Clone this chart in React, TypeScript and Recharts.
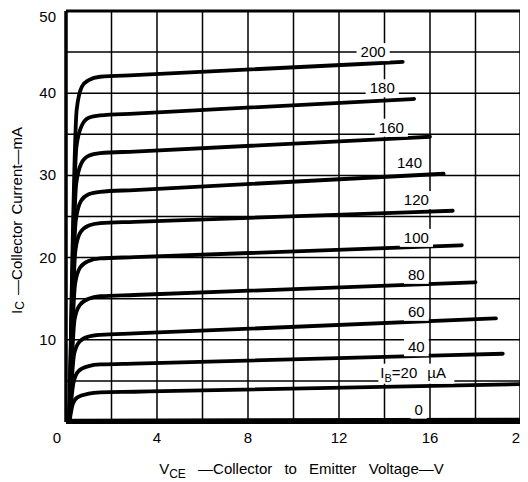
import React from 'react';
import { LineChart, Line, XAxis, YAxis, ReferenceLine, ReferenceDot, Label } from 'recharts';

// Collector characteristic curves: [V_CE (V), I_C (mA)]
const ib0 = [[0.15, 0.15], [20, 0.3]];
const ib20 = [[0.15, 0], [0.3, 2.2], [0.5, 3.0], [1.0, 3.45], [1.5, 3.6], [3, 3.68], [20, 4.6]];
const ib40 = [[0.15, 0], [0.33, 4.8], [0.55, 6.2], [1.0, 6.8], [1.5, 7.0], [3, 7.11], [19.2, 8.3]];
const ib60 = [[0.15, 0], [0.36, 8.3], [0.6, 9.8], [1.0, 10.4], [1.5, 10.6], [3, 10.77], [18.9, 12.6]];
const ib80 = [[0.15, 0], [0.38, 12.5], [0.6, 14.2], [1.0, 15.0], [1.5, 15.3], [3, 15.45], [18.0, 17.0]];
const ib100 = [[0.15, 0], [0.4, 16.8], [0.62, 18.8], [1.0, 19.6], [1.5, 19.9], [3, 20.05], [17.4, 21.5]];
const ib120 = [[0.15, 0], [0.42, 21], [0.64, 23.1], [1.0, 23.9], [1.5, 24.2], [3, 24.35], [17.0, 25.7]];
const ib140 = [[0.15, 0], [0.43, 24.5], [0.66, 26.9], [1.0, 27.7], [1.5, 28.0], [3, 28.22], [16.6, 30.2]];
const ib160 = [[0.15, 0], [0.45, 29], [0.68, 31.5], [1.0, 32.4], [1.5, 32.7], [3, 32.9], [16.0, 34.7]];
const ib180 = [[0.15, 0], [0.46, 33.5], [0.7, 36.1], [1.0, 37.0], [1.5, 37.3], [3, 37.52], [15.3, 39.3]];
const ib200 = [[0.15, 0], [0.47, 38], [0.7, 40.8], [1.0, 41.6], [1.5, 42.0], [3, 42.2], [14.8, 43.8]];

const curves = [ib0, ib20, ib40, ib60, ib80, ib100, ib120, ib140, ib160, ib180, ib200];

// Curve labels
const labelText = ['200', '180', '160', '140', '120', '100', '80', '60', '40', 'IB', '0'];
const labelV = [13.5, 13.9, 14.3, 15.1, 15.4, 15.4, 15.4, 15.4, 15.4, 15.4, 15.5];
const labelI = [45.0, 40.6, 35.8, 31.5, 27.0, 22.4, 17.9, 13.4, 9.1, 6.0, 1.5];

// Axes
const xTicks = [0, 4, 8, 12, 16, 20];
const yTicks = [10, 20, 30, 40, 50];
const gridX = [2, 4, 6, 8, 10, 12, 14, 16, 18];
const gridY = [5, 10, 15, 20, 25, 30, 35, 40, 45];

const FONT = '"Liberation Sans", Arial, sans-serif';

const toData = (pts: number[][]) => pts.map(([v, i]) => ({ v, i }));

const CurveLabel = (props: any) => {
  const { cx, cy, text } = props;
  if (cx == null || cy == null) return null;
  if (text === 'IB') {
    const w = 76;
    return (
      <g>
        <rect x={cx - w / 2} y={cy - 9} width={w} height={20} fill="#fff" />
        <text x={cx - w / 2 + 2} y={cy + 5} fontSize={15} fontFamily={FONT} fill="#000">
          <tspan>I</tspan>
          <tspan fontSize={11} dy={4}>B</tspan>
          <tspan dy={-4}>=20</tspan>
          <tspan dx={10}>µA</tspan>
        </text>
      </g>
    );
  }
  const w = text.length * 8.4 + 8;
  return (
    <g>
      <rect x={cx - w / 2} y={cy - 9} width={w} height={18} fill="#fff" />
      <text x={cx} y={cy + 5} textAnchor="middle" fontSize={15} fontFamily={FONT} fill="#000">
        {text}
      </text>
    </g>
  );
};

const XTick = (props: any) => {
  const { x, y, payload } = props;
  const dx = payload.value === 0 ? -9 : 0;
  return (
    <text x={x + dx} y={y + 13} textAnchor="middle" fontSize={15} fontFamily={FONT} fill="#000">
      {payload.value}
    </text>
  );
};

const YTick = (props: any) => {
  const { x, y, payload } = props;
  return (
    <text x={x} y={y + 5} textAnchor="end" fontSize={15} fontFamily={FONT} fill="#000">
      {payload.value}
    </text>
  );
};

const XTitle = (props: any) => {
  const vb = props.viewBox || { x: 0, y: 0, width: 0, height: 0 };
  const cx = vb.x + vb.width / 2 + 8;
  return (
    <text x={cx} y={vb.y + 52} textAnchor="middle" fontSize={15} fontFamily={FONT} fill="#000" wordSpacing={8}>
      <tspan>V</tspan>
      <tspan fontSize={12} dy={4}>CE</tspan>
      <tspan dy={-4}> —Collector to Emitter Voltage—V</tspan>
    </text>
  );
};

const YTitle = (props: any) => {
  const vb = props.viewBox || { x: 0, y: 0, width: 0, height: 0 };
  const cx = 8;
  const cy = vb.y + vb.height / 2 + 4;
  return (
    <text
      x={cx}
      y={cy}
      transform={`rotate(-90, ${cx}, ${cy})`}
      textAnchor="middle"
      dominantBaseline="central"
      fontSize={15}
      fontFamily={FONT}
      fill="#000"
      wordSpacing={2}
    >
      <tspan>I</tspan>
      <tspan fontSize={12} dy={4}>C</tspan>
      <tspan dy={-4}> —Collector Current—mA</tspan>
    </text>
  );
};

export default function App() {
  return (
    <div style={{ width: 520, height: 474, background: '#fff' }}>
      <LineChart width={520} height={474} margin={{ top: 3, right: 7, left: 18, bottom: 30 }}>
        <XAxis
          type="number"
          dataKey="v"
          domain={[0, 20]}
          ticks={xTicks}
          axisLine={false}
          tickLine={false}
          tick={<XTick />}
          height={30}
          allowDataOverflow
        >
          <Label content={<XTitle />} />
        </XAxis>
        <YAxis
          type="number"
          dataKey="i"
          domain={[0, 50]}
          ticks={yTicks}
          axisLine={false}
          tickLine={false}
          tick={<YTick />}
          tickMargin={4}
          width={40}
          allowDataOverflow
        >
          <Label content={<YTitle />} />
        </YAxis>
        {gridX.map((g) => (
          <ReferenceLine key={'gx' + g} x={g} stroke="#000" strokeWidth={1.5} />
        ))}
        {gridY.map((g) => (
          <ReferenceLine key={'gy' + g} y={g} stroke="#000" strokeWidth={1.5} />
        ))}
        {curves.map((c, k) => (
          <Line
            key={'c' + k}
            data={toData(c)}
            dataKey="i"
            type="monotone"
            stroke="#000"
            strokeWidth={3.8}
            strokeLinecap="round"
            dot={false}
            activeDot={false}
            isAnimationActive={false}
          />
        ))}
        <ReferenceLine x={0} stroke="#000" strokeWidth={3.5} />
        <ReferenceLine x={20} stroke="#000" strokeWidth={3.5} />
        <ReferenceLine y={0} stroke="#000" strokeWidth={4} />
        <ReferenceLine y={50} stroke="#000" strokeWidth={3} />
        {labelText.map((t, k) => (
          <ReferenceDot
            key={'l' + k}
            x={labelV[k]}
            y={labelI[k]}
            r={0}
            shape={(p: any) => <CurveLabel cx={p.cx} cy={p.cy} text={t} />}
          />
        ))}
      </LineChart>
    </div>
  );
}
